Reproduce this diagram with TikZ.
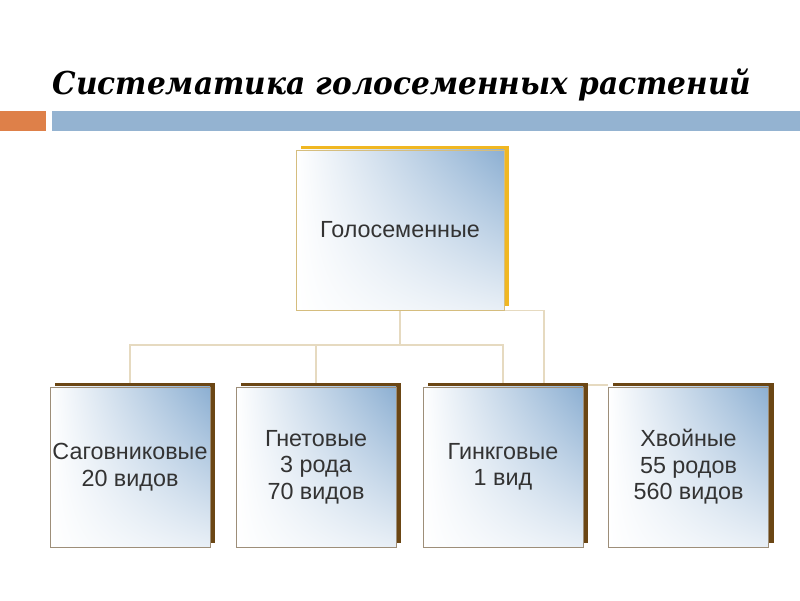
\documentclass[tikz,border=0pt]{standalone}
\usepackage{fontspec}
\setmainfont{Liberation Sans}
\newfontfamily\titlefont[FakeStretch=0.94]{DejaVu Serif}
\usetikzlibrary{shadows, shadings, backgrounds}
\definecolor{barorange}{HTML}{DE8049}
\definecolor{barblue}{HTML}{94B3D1}
\definecolor{topshadow}{HTML}{F0B722}
\definecolor{lowshadow}{HTML}{6B4614}
\definecolor{boxblue}{HTML}{8CAFD2}
\definecolor{linkcolor}{HTML}{E6DAC0}
\definecolor{textgray}{HTML}{333333}

\tikzset{
  taxon/.style={rectangle, draw=#1!60!gray!70, line width=0.6pt,
    upper right=boxblue, upper left=white, lower left=white, lower right=white!80!boxblue,
    text=textgray, align=center, inner sep=0pt,
    font=\fontsize{16.6pt}{18.8pt}\selectfont},
  link/.style={draw=linkcolor, line width=1.1pt}
}

\begin{document}
\begin{tikzpicture}[x=0.025cm, y=-0.025cm]

  % Page 800 by 600, one unit is one pixel of the reference.
  \useasboundingbox (0,0) rectangle (800,600);

  % Title and the two bars under it.
  \node[anchor=base, text=black, font=\titlefont\bfseries\itshape\fontsize{22.4pt}{26pt}\selectfont]
    (title) at (402,94) {Систематика голосеменных растений};
  \fill[barorange] (0,111) rectangle (46,131);
  \fill[barblue] (52,111) rectangle (800,131);

  % The class and its four orders.
  \node[taxon=topshadow, minimum width=5.2cm, minimum height=4cm,
    general shadow={fill=topshadow, shadow xshift=0.125cm, shadow yshift=0.1cm}]
    (gymno) at (400,230) {Голосеменные};

  \foreach \name/\x/\txt in {cycad/130/{Саговниковые\\20 видов},
                             gnet/316/{Гнетовые\\3 рода\\70 видов},
                             ginkgo/503/{Гинкговые\\1 вид},
                             conif/688.5/{Хвойные\\55 родов\\560 видов}} {
    \node[taxon=lowshadow, minimum width=4cm, minimum height=4cm,
      general shadow={fill=lowshadow, shadow xshift=0.125cm, shadow yshift=0.1cm}]
      (\name) at (\x,467) {\txt};
  }

  % Connectors run behind the boxes.
  \begin{scope}[on background layer]
    \coordinate (bus) at (400,345);
    \coordinate (elbow) at (544,385);
    \draw[link] (gymno.south) -- (bus) -| (cycad.north);
    \draw[link] (bus) -| (gnet.north);
    \draw[link] (bus) -| (ginkgo.north);
    \draw[link] (gymno.south east) -| (elbow) -- (conif.west |- elbow);
  \end{scope}

\end{tikzpicture}
\end{document}
